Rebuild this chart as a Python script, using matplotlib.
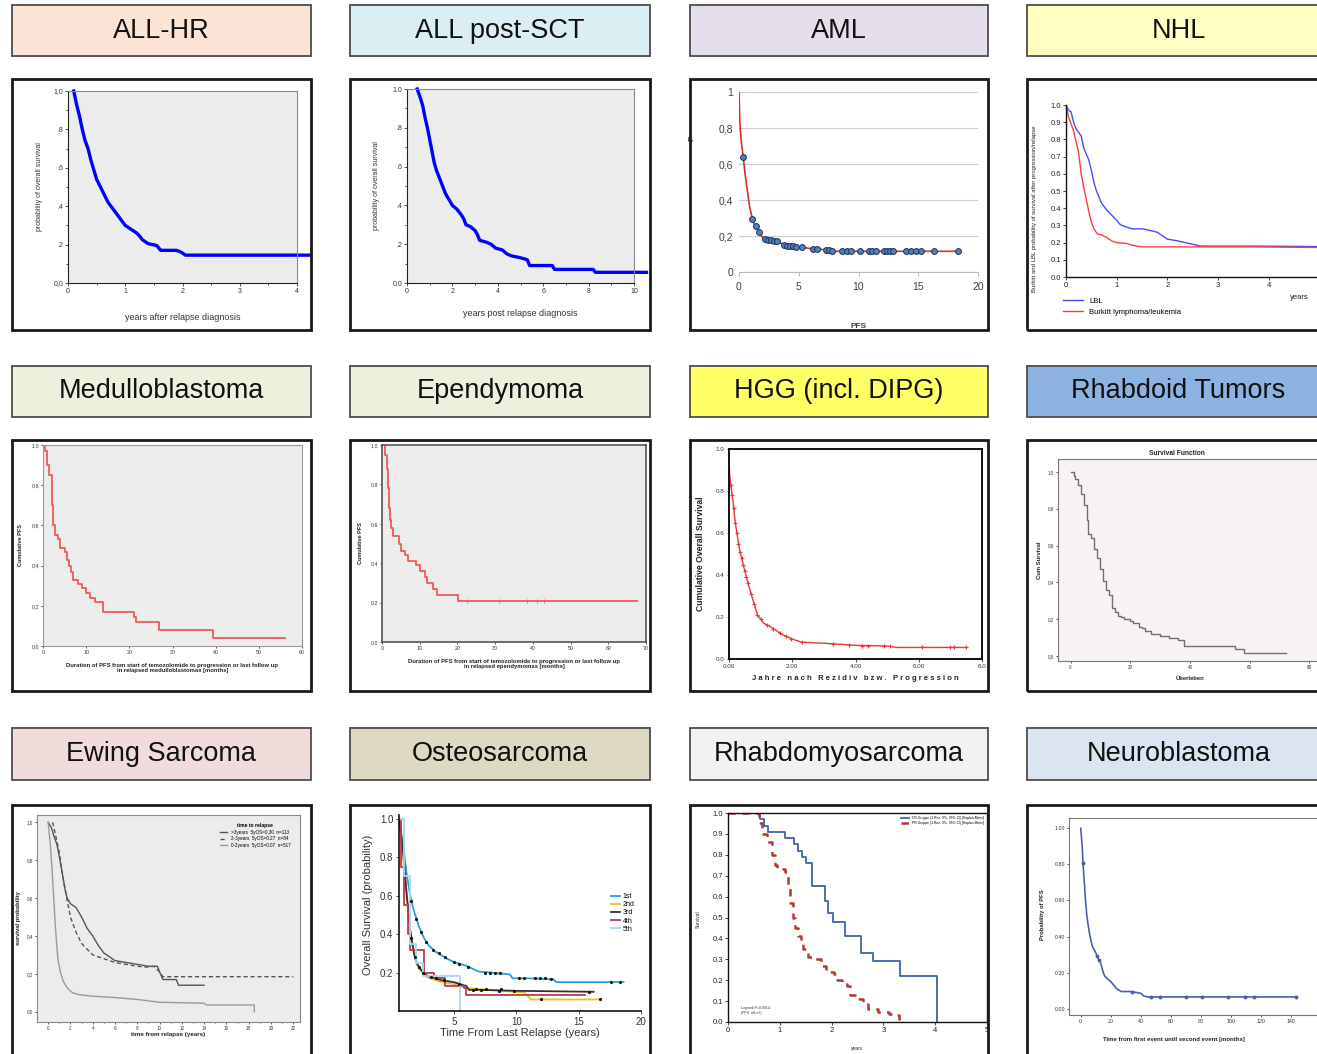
"""Twelve relapse survival curves, one small panel per diagnosis, laid out 4 x 3."""
import matplotlib
matplotlib.use("Agg")
import matplotlib.pyplot as plt
from matplotlib.patches import Rectangle

plt.rcParams['font.family'] = ['Liberation Sans', 'DejaVu Sans']

# ---- panel titles and colours -------------------------------------------
TITLES = ["ALL-HR", "ALL post-SCT", "AML", "NHL",
          "Medulloblastoma", "Ependymoma", "HGG (incl. DIPG)", "Rhabdoid Tumors",
          "Ewing Sarcoma", "Osteosarcoma", "Rhabdomyosarcoma", "Neuroblastoma"]
TITLE_COLORS = ["#fbe4d5", "#daeef3", "#e5dfec", "#ffffc4",
                "#ebf1dd", "#ebf1dd", "#ffff66", "#8db3e2",
                "#f2dcdb", "#ddd9c3", "#f2f2f2", "#dbe5f1"]

# ---- ALL-HR ----
ALLHR_T = [0.1, 0.15, 0.2, 0.25, 0.3, 0.35, 0.4, 0.45, 0.5, 0.55, 0.6, 0.65, 0.7, 0.75, 0.8,
           0.85, 0.9, 0.95, 1.0, 1.1, 1.2, 1.25, 1.3, 1.4, 1.55, 1.62, 1.9, 1.98, 2.05, 4.23]
ALLHR_S = [1.0, 0.93, 0.87, 0.80, 0.74, 0.70, 0.64, 0.59, 0.54, 0.51, 0.48, 0.45, 0.42, 0.40, 0.38,
           0.36, 0.34, 0.32, 0.30, 0.28, 0.26, 0.245, 0.225, 0.205, 0.195, 0.17, 0.17, 0.16, 0.145, 0.145]
ALLHR_YLABELS = ["0,0", ".2", ".4", ".6", ".8", "1,0"]

# ---- ALL post-SCT ----
SCT_T = [0.45, 0.6, 0.7, 0.8, 0.9, 1.0, 1.1, 1.2, 1.3, 1.4, 1.5, 1.6, 1.7, 1.8, 1.9, 2.0, 2.2, 2.4, 2.5,
         2.6, 2.8, 3.0, 3.1, 3.2, 3.5, 3.7, 3.9, 4.2, 4.4, 4.6, 5.0, 5.3, 5.4, 6.4, 6.5, 8.2, 8.3, 10.55]
SCT_S = [1.0, 0.95, 0.91, 0.85, 0.80, 0.74, 0.68, 0.62, 0.58, 0.55, 0.52, 0.49, 0.46, 0.44, 0.42, 0.40,
         0.38, 0.35, 0.33, 0.30, 0.29, 0.27, 0.25, 0.22, 0.21, 0.20, 0.18, 0.17, 0.15, 0.14, 0.13, 0.12,
         0.09, 0.09, 0.07, 0.07, 0.055, 0.055]
SCT_YLABELS = ["0.0", ".2", ".4", ".6", ".8", "1.0"]

# ---- AML ----
AML_T = [0, 0.05, 0.1, 0.2, 0.35, 0.5, 0.7, 0.9, 1.1, 1.3, 1.5, 1.7, 2.0, 2.5, 3.0, 3.5, 4.0,
         5.0, 6.0, 7.0, 8.0, 18.3]
AML_S = [1.0, 0.88, 0.80, 0.72, 0.64, 0.55, 0.45, 0.36, 0.30, 0.26, 0.24, 0.22, 0.19, 0.178, 0.172,
         0.16, 0.15, 0.14, 0.13, 0.125, 0.115, 0.115]
AML_MARK_T = [0.35, 1.1, 1.45, 1.65, 2.2, 2.45, 2.7, 2.95, 3.15, 3.8, 4.05, 4.3, 4.55, 4.75, 5.3,
              6.2, 6.5, 7.3, 7.55, 7.75, 8.6, 9.0, 9.4, 10.15, 10.85, 11.15, 11.5, 12.1, 12.4, 12.6,
              12.9, 14.0, 14.4, 14.8, 15.2, 16.3, 18.3]
AML_MARK_S = [0.64, 0.295, 0.255, 0.225, 0.185, 0.18, 0.178, 0.175, 0.175, 0.15, 0.147, 0.145, 0.142,
              0.14, 0.14, 0.13, 0.13, 0.125, 0.12, 0.118, 0.115, 0.115, 0.115, 0.115, 0.115, 0.115,
              0.115, 0.115, 0.115, 0.115, 0.115, 0.115, 0.115, 0.115, 0.115, 0.115, 0.115]
AML_YLABELS = ["0", "0,2", "0,4", "0,6", "0,8", "1"]

# ---- NHL ----
LBL_T = [0, 0.05, 0.1, 0.15, 0.2, 0.3, 0.35, 0.45, 0.5, 0.55, 0.6, 0.7, 0.8, 0.9, 1.0, 1.05, 1.1,
         1.2, 1.3, 1.5, 1.6, 1.8, 1.9, 2.0, 2.2, 2.5, 2.65, 3.7, 5.6]
LBL_S = [1.0, 0.97, 0.96, 0.90, 0.86, 0.82, 0.75, 0.68, 0.62, 0.55, 0.50, 0.43, 0.39, 0.36, 0.33,
         0.31, 0.30, 0.29, 0.28, 0.28, 0.275, 0.26, 0.24, 0.22, 0.21, 0.19, 0.18, 0.18, 0.175]
BL_T = [0, 0.05, 0.15, 0.25, 0.3, 0.35, 0.4, 0.45, 0.5, 0.55, 0.62, 0.7, 0.8, 0.9, 1.0, 1.2, 1.3,
        1.5, 3.7, 5.6]
BL_S = [1.0, 0.93, 0.85, 0.72, 0.60, 0.52, 0.45, 0.38, 0.32, 0.28, 0.25, 0.245, 0.23, 0.21, 0.20,
        0.195, 0.185, 0.175, 0.175, 0.17]
NHL_XLABELS = ["0", "1", "2", "3", "4", ""]

# ---- Medulloblastoma ----
MB_T = [0, 0.5, 1.0, 1.5, 2.0, 2.3, 2.7, 3.5, 4.0, 5.0, 5.5, 6.0, 6.5, 7.0, 8.0, 9.0, 10.0, 11.0,
        12.0, 13.8, 21.0, 21.5, 26.8, 39.3, 56.0]
MB_S = [1.0, 0.97, 0.90, 0.85, 0.70, 0.60, 0.55, 0.53, 0.49, 0.47, 0.43, 0.40, 0.37, 0.33, 0.31,
        0.29, 0.265, 0.24, 0.22, 0.17, 0.145, 0.12, 0.08, 0.04, 0.04]
PFS_YLABELS = ["0,0", "0,2", "0,4", "0,6", "0,8", "1,0"]

# ---- Ependymoma ----
EP_T = [0, 0.8, 1.2, 1.5, 1.8, 2.0, 2.5, 3.0, 4.5, 5.0, 6.0, 7.0, 9.0, 10.0, 11.5, 12.0, 13.5,
        14.5, 20.2, 67.5]
EP_S = [1.0, 0.95, 0.88, 0.78, 0.68, 0.62, 0.58, 0.54, 0.50, 0.46, 0.44, 0.41, 0.39, 0.36, 0.33,
        0.30, 0.27, 0.24, 0.21, 0.21]
EP_CENS_T = [22.5, 31.0, 38.5, 41.0, 43.0]
EP_CENS_S = [0.21, 0.21, 0.21, 0.21, 0.21]

# ---- HGG ----
HGG_T = [0, 0.02, 0.05, 0.08, 0.12, 0.16, 0.2, 0.25, 0.3, 0.35, 0.4, 0.45, 0.5, 0.55, 0.6, 0.7,
         0.8, 0.9, 1.0, 1.1, 1.3, 1.5, 1.7, 2.0, 2.3, 3.0, 4.0, 5.0, 5.3, 7.5]
HGG_S = [0.95, 0.88, 0.83, 0.80, 0.76, 0.70, 0.65, 0.60, 0.55, 0.51, 0.48, 0.45, 0.42, 0.39, 0.36,
         0.31, 0.26, 0.21, 0.19, 0.17, 0.155, 0.135, 0.115, 0.095, 0.08, 0.075, 0.065, 0.062,
         0.055, 0.055]
HGG_CENS_T = [0.05, 0.1, 0.15, 0.2, 0.25, 0.3, 0.35, 0.4, 0.45, 0.5, 0.55, 0.6, 0.7, 0.8, 0.9,
              1.0, 1.2, 1.4, 1.6, 1.8, 1.95, 2.3, 3.3, 3.8, 4.2, 4.4, 4.9, 5.1, 6.1, 7.0, 7.1, 7.5]
HGG_CENS_S = [0.83, 0.78, 0.72, 0.65, 0.60, 0.55, 0.51, 0.48, 0.45, 0.42, 0.39, 0.36, 0.31, 0.26,
              0.21, 0.19, 0.163, 0.145, 0.125, 0.108, 0.097, 0.08, 0.072, 0.065, 0.064, 0.063,
              0.062, 0.061, 0.055, 0.055, 0.055, 0.055]
HGG_XLABELS = ["0.00", "2.00", "4.00", "6.00", "8.0"]

# ---- Rhabdoid ----
RT_T = [0, 1, 1.5, 2.5, 3.5, 4.5, 5.5, 6, 7, 8, 9, 10, 11, 12, 13, 14, 15, 16, 17, 18, 20, 21, 23,
        24, 25, 27, 30, 33, 36, 38, 55, 58, 72]
RT_S = [1.0, 0.98, 0.96, 0.93, 0.88, 0.82, 0.74, 0.66, 0.64, 0.58, 0.53, 0.47, 0.41, 0.36, 0.33,
        0.26, 0.24, 0.22, 0.21, 0.20, 0.19, 0.18, 0.155, 0.15, 0.135, 0.12, 0.11, 0.10, 0.085,
        0.055, 0.04, 0.015, 0.015]

# ---- Ewing ----
EW_LATE_T = [0, 0.3, 0.5, 0.8, 1.0, 1.3, 1.5, 1.7, 2.0, 2.5, 3.0, 3.5, 4.0, 4.5, 5.0, 5.5, 6.0,
             7.0, 8.0, 9.0, 9.8, 10.0, 10.3, 11.5, 11.7, 14.0]
EW_LATE_S = [1.0, 0.97, 0.93, 0.88, 0.82, 0.72, 0.65, 0.60, 0.57, 0.55, 0.50, 0.44, 0.40, 0.35,
             0.31, 0.29, 0.27, 0.26, 0.25, 0.24, 0.24, 0.21, 0.17, 0.17, 0.14, 0.14]
EW_MID_T = [0.4, 0.6, 1.0, 1.3, 1.6, 1.8, 2.0, 2.5, 3.0, 3.5, 4.0, 5.0, 6.0, 7.0, 8.0, 9.0, 9.5,
            10.0, 10.3, 22.0]
EW_MID_S = [1.0, 0.95, 0.84, 0.72, 0.62, 0.56, 0.50, 0.42, 0.36, 0.33, 0.30, 0.28, 0.26, 0.25,
            0.24, 0.235, 0.24, 0.21, 0.185, 0.185]
EW_EARLY_T = [0, 0.2, 0.35, 0.5, 0.65, 0.8, 0.9, 1.1, 1.3, 1.5, 1.8, 2.2, 2.8, 4.0, 6.0, 8.0, 10.0,
              14.0, 14.2, 18.5, 18.5]
EW_EARLY_S = [1.0, 0.88, 0.75, 0.60, 0.45, 0.33, 0.27, 0.21, 0.17, 0.145, 0.12, 0.10, 0.09, 0.082,
              0.075, 0.065, 0.05, 0.045, 0.036, 0.036, 0.0]
EW_LABELS = [">3years  5yOS=0.30  n=113", "2-3years  5yOS=0.27  n=84", "0-2years  5yOS=0.07  n=517"]
EW_YLABELS = ["0,0", "0,2", "0,4", "0,6", "0,8", "1,0"]

# ---- Osteosarcoma ----
OS_LABELS = ["1st", "2nd", "3rd", "4th", "5th"]
OS_COLORS = ["#2e9bd6", "#e6c619", "#333333", "#c0364f", "#a7d8f0"]
OS_1_T = [0.6, 0.9, 1.2, 1.5, 1.8, 2.2, 2.6, 3.0, 3.5, 4.0, 4.5, 5.0, 5.5, 6.0, 6.5, 7.0, 8.0, 9.5,
          9.7, 11.0, 13.0, 13.2, 18.6]
OS_1_S = [1.0, 0.88, 0.72, 0.60, 0.52, 0.44, 0.38, 0.34, 0.31, 0.29, 0.27, 0.255, 0.245, 0.235,
          0.22, 0.205, 0.2, 0.19, 0.17, 0.17, 0.165, 0.15, 0.15]
OS_2_T = [0.6, 0.9, 1.2, 1.5, 1.8, 2.2, 2.7, 4.0, 5.0, 6.0, 7.0, 10.7, 11.2, 16.8]
OS_2_S = [1.0, 0.82, 0.60, 0.42, 0.30, 0.22, 0.18, 0.15, 0.14, 0.12, 0.115, 0.095, 0.06, 0.06]
OS_3_T = [0.6, 0.9, 1.2, 1.5, 1.8, 2.0, 2.3, 2.7, 3.0, 4.0, 5.0, 6.0, 6.2, 7.0, 10.0, 16.2]
OS_3_S = [1.0, 0.85, 0.62, 0.42, 0.30, 0.25, 0.22, 0.19, 0.18, 0.16, 0.15, 0.13, 0.11, 0.11, 0.105,
          0.10]
OS_4_T = [0.6, 0.8, 1.0, 1.3, 1.5, 2.5, 2.6, 3.4, 4.3, 5.8, 6.0, 15.5]
OS_4_S = [1.0, 0.75, 0.55, 0.40, 0.32, 0.32, 0.20, 0.17, 0.13, 0.12, 0.085, 0.085]
OS_5_T = [0.6, 1.0, 1.5, 2.0, 2.5, 5.5, 5.5]
OS_5_S = [1.0, 0.70, 0.35, 0.25, 0.18, 0.18, 0.0]
OS_1_CENS_T = [1.6, 2.0, 2.4, 2.8, 3.3, 3.8, 4.3, 5.0, 5.4, 6.1, 7.5, 7.9, 8.3, 8.7, 10.2, 10.6,
               11.5, 11.9, 12.3, 12.8, 17.6, 18.3]
OS_1_CENS_S = [0.57, 0.48, 0.41, 0.36, 0.32, 0.30, 0.28, 0.255, 0.245, 0.23, 0.2, 0.2, 0.2, 0.2,
               0.17, 0.17, 0.17, 0.17, 0.17, 0.165, 0.15, 0.15]
OS_3_CENS_T = [1.6, 1.9, 2.2, 2.5, 3.2, 3.6, 4.2, 6.5, 7.2, 8.6, 9.8, 15.8]
OS_3_CENS_S = [0.38, 0.28, 0.23, 0.20, 0.175, 0.17, 0.16, 0.11, 0.11, 0.105, 0.105, 0.10]
OS_2_CENS_T = [5.4, 6.8, 7.6, 8.8, 12.0, 16.7]
OS_2_CENS_S = [0.14, 0.115, 0.115, 0.115, 0.06, 0.06]

# ---- Rhabdomyosarcoma ----
RMS_A_T = [0, 0.62, 0.7, 0.77, 1.1, 1.27, 1.35, 1.42, 1.5, 1.62, 1.88, 1.94, 2.03, 2.25, 2.57,
           2.8, 3.32, 4.04]
RMS_A_S = [1.0, 0.97, 0.94, 0.91, 0.88, 0.85, 0.82, 0.79, 0.76, 0.65, 0.58, 0.52, 0.48, 0.41,
           0.33, 0.29, 0.22, 0.0]
RMS_B_T = [0, 0.6, 0.65, 0.75, 0.85, 0.9, 0.95, 1.1, 1.15, 1.2, 1.25, 1.3, 1.35, 1.4, 1.45, 1.55,
           1.65, 1.8, 1.9, 2.05, 2.1, 2.2, 2.3, 2.35, 2.5, 2.6, 2.7, 2.9, 3.1, 3.2, 3.3]
RMS_B_S = [1.0, 0.95, 0.90, 0.86, 0.80, 0.75, 0.73, 0.72, 0.65, 0.57, 0.50, 0.45, 0.41, 0.38, 0.35,
           0.31, 0.30, 0.27, 0.24, 0.23, 0.20, 0.18, 0.17, 0.13, 0.11, 0.09, 0.06, 0.05, 0.04,
           0.035, 0.01]
RMS_LABELS = ["CR-Gruppe (1.Rez. 0%, 95% CI) [Kaplan-Meier]",
              "PR-Gruppe (1.Rez. 0%, 95% CI) [Kaplan-Meier]"]

# ---- Neuroblastoma ----
NB_T = [0, 1, 1.5, 2, 3, 4, 5, 6, 7, 8, 10, 11, 12, 13, 15, 16, 18, 20, 22, 24, 27, 33, 37, 40, 42,
        45, 143]
NB_S = [1.0, 0.90, 0.81, 0.75, 0.62, 0.52, 0.46, 0.41, 0.37, 0.34, 0.31, 0.29, 0.27, 0.26, 0.20,
        0.18, 0.165, 0.15, 0.13, 0.11, 0.095, 0.095, 0.09, 0.085, 0.07, 0.065, 0.065]
NB_CENS_T = [1.5, 11, 12, 34, 47, 53, 70, 81, 98, 109, 115, 143]
NB_CENS_S = [0.81, 0.29, 0.27, 0.095, 0.065, 0.065, 0.065, 0.065, 0.065, 0.065, 0.065, 0.065]
NB_YLABELS = ["0.00", "0.20", "0.40", "0.60", "0.80", "1.00"]

# ---- layout (pixels) ----
W, H = 1317, 1054
COL_X = [(12, 311), (350, 650), (690, 988), (1027, 1330)]
HEAD_Y = [(5, 56), (366, 417), (728, 780)]
BOX_Y = [(79, 330), (440, 691), (805, 1062)]

fig = plt.figure(figsize=(W / 100, H / 100), dpi=100)


def px_axes(x0, y0, x1, y1):
    return fig.add_axes([x0 / W, 1 - y1 / H, (x1 - x0) / W, (y1 - y0) / H])


def px_rect(x0, y0, x1, y1, **kw):
    r = Rectangle((x0 / W, 1 - y1 / H), (x1 - x0) / W, (y1 - y0) / H,
                  transform=fig.transFigure, **kw)
    fig.patches.append(r)


def ticks(ax, size, color="#333333", length=2.0):
    ax.tick_params(labelsize=size, colors=color, length=length, width=0.6, pad=1.5)
    ax.tick_params(which="minor", length=length * 0.7, width=0.5)


def frame(ax, color, lw=0.8):
    for s in ax.spines.values():
        s.set_color(color)
        s.set_linewidth(lw)


# headers and frames
for i, (title, col) in enumerate(zip(TITLES, TITLE_COLORS)):
    r, c = divmod(i, 4)
    x0, x1 = COL_X[c]
    hy0, hy1 = HEAD_Y[r]
    px_rect(x0, hy0, x1, hy1, facecolor=col, edgecolor="#4d4d4d", lw=1.3, zorder=1)
    fig.text((x0 + x1) / 2 / W, 1 - (hy0 + hy1) / 2 / H, title, fontsize=19.5,
             ha="center", va="center", color="#111111")
    by0, by1 = BOX_Y[r]
    px_rect(x0, by0, x1, by1, fill=False, edgecolor="#1a1a1a", lw=2.0, zorder=20)

# 1 ALL-HR
ax = px_axes(68, 91, 297, 283)
ax.set_facecolor("#ececec")
ax.plot(ALLHR_T, ALLHR_S, color="#0000ff", lw=2.4, clip_on=False, solid_joinstyle="round")
ax.set_xlim(0, 4)
ax.set_ylim(0, 1)
ax.set_xticks([0, 1, 2, 3, 4])
ax.set_xticks([0.5, 1.5, 2.5, 3.5], minor=True)
ax.set_yticks([0, 0.2, 0.4, 0.6, 0.8, 1.0])
ax.set_yticklabels(ALLHR_YLABELS)
ax.set_yticks([0.1, 0.3, 0.5, 0.7, 0.9], minor=True)
ticks(ax, 5)
frame(ax, "#888888")
ax.spines["left"].set_color("#222222")
ax.spines["bottom"].set_color("#222222")
ax.set_ylabel("probability of overall survival", fontsize=5, color="#333")
ax.set_xlabel("years after relapse diagnosis", fontsize=6.5, color="#333")
ax.yaxis.set_label_coords(-0.109, 0.5)
ax.xaxis.set_label_coords(0.5, -0.156)

# 2 ALL post-SCT
ax = px_axes(407, 89, 634, 283)
ax.set_facecolor("#ececec")
ax.plot(SCT_T, SCT_S, color="#0000ff", lw=2.4, clip_on=False, solid_joinstyle="round")
ax.set_xlim(0, 10)
ax.set_ylim(0, 1)
ax.set_xticks([0, 2, 4, 6, 8, 10])
ax.set_xticks([1, 3, 5, 7, 9], minor=True)
ax.set_yticks([0, 0.2, 0.4, 0.6, 0.8, 1.0])
ax.set_yticklabels(SCT_YLABELS)
ax.set_yticks([0.1, 0.3, 0.5, 0.7, 0.9], minor=True)
ticks(ax, 5)
frame(ax, "#888888")
ax.spines["left"].set_color("#222222")
ax.spines["bottom"].set_color("#222222")
ax.set_ylabel("probability of overall survival", fontsize=5, color="#333")
ax.set_xlabel("years post relapse diagnosis", fontsize=6.5, color="#333")
ax.yaxis.set_label_coords(-0.119, 0.5)
ax.xaxis.set_label_coords(0.5, -0.134)

# 3 AML
ax = px_axes(739, 92, 978, 272)
ax.plot(AML_T, AML_S, color="#d9302c", lw=1.2, zorder=3)
ax.plot(AML_MARK_T, AML_MARK_S, "o", ms=4.2, mfc="#4f81bd", mec="#1f3350", mew=0.7, zorder=4)
ax.set_xlim(0, 20)
ax.set_ylim(0, 1)
ax.set_xticks([0, 5, 10, 15, 20])
ax.set_yticks([0, 0.2, 0.4, 0.6, 0.8, 1.0])
ax.set_yticklabels(AML_YLABELS)
ax.grid(axis="y", color="#cccccc", lw=0.8)
ax.set_axisbelow(True)
for s in ["top", "right", "left"]:
    ax.spines[s].set_visible(False)
ax.spines["bottom"].set_color("#bbbbbb")
ax.tick_params(labelsize=7.5, colors="#404040", length=0, pad=4)
ax.tick_params(axis="x", length=3, color="#bbbbbb", labelcolor="#404040")
ax.set_ylabel("P", fontsize=6, weight="bold", color="#404040")
ax.set_xlabel("PFS", fontsize=6, weight="bold", color="#404040")
ax.yaxis.set_label_coords(-0.184, 0.744)
ax.xaxis.set_label_coords(0.5, -0.283)

# 4 NHL
ax = px_axes(1066, 105, 1345, 277)
ax.plot(LBL_T, LBL_S, color="#4a4aff", lw=1.0, label="LBL")
ax.plot(BL_T, BL_S, color="#ff3b3b", lw=1.0, label="Burkitt lymphoma/leukemia")
ax.set_xlim(0, 5.5)
ax.set_ylim(0, 1.0)
ax.set_xticks([0, 1, 2, 3, 4, 5])
ax.set_xticklabels(NHL_XLABELS)
ax.set_yticks([i / 10 for i in range(11)])
ax.spines["top"].set_visible(False)
ax.spines["right"].set_visible(False)
frame(ax, "#111111", lw=1.0)
ticks(ax, 5.5, color="#222222")
ax.set_ylabel("Burkitt and LBL probability of survival after progression/relapse", fontsize=4.3,
              color="#222")
ax.yaxis.set_label_coords(-0.104, 0.40)
ax.text(4.42, -0.10, "years", fontsize=5.5, color="#222", va="top",
        transform=ax.get_xaxis_transform())
ax.legend(loc="upper left", bbox_to_anchor=(-0.02, -0.10), frameon=False, fontsize=5.5,
          handlelength=2.6, labelspacing=0.55, borderaxespad=0)

# 5 Medulloblastoma
ax = px_axes(43, 445, 302, 646)
ax.set_facecolor("#ececec")
ax.step(MB_T, MB_S, where="post", color="#ee5a5a", lw=1.3)
ax.set_xlim(0, 60)
ax.set_ylim(0, 1)
ax.set_xticks([0, 10, 20, 30, 40, 50, 60])
ax.set_yticks([0, 0.2, 0.4, 0.6, 0.8, 1.0])
ax.set_yticklabels(PFS_YLABELS)
ticks(ax, 3.8, length=1.5)
frame(ax, "#999999")
ax.set_ylabel("Cumulative PFS", fontsize=4, weight="bold", color="#222")
ax.set_xlabel("Duration of PFS from start of temozolomide to progression or last follow up\n"
              "in relapsed medulloblastomas [months]", fontsize=4.2, weight="bold", color="#222",
              linespacing=1.0)
ax.yaxis.set_label_coords(-0.077, 0.5)
ax.xaxis.set_label_coords(0.5, -0.085)

# 6 Ependymoma
ax = px_axes(382, 445, 646, 642)
ax.set_facecolor("#ececec")
ax.step(EP_T, EP_S, where="post", color="#ee5a5a", lw=1.3)
ax.plot(EP_CENS_T, EP_CENS_S, "|", color="#ee5a5a", ms=3, mew=0.6)
ax.set_xlim(0, 70)
ax.set_ylim(0, 1)
ax.set_xticks([0, 10, 20, 30, 40, 50, 60, 70])
ax.set_yticks([0, 0.2, 0.4, 0.6, 0.8, 1.0])
ax.set_yticklabels(PFS_YLABELS)
ticks(ax, 3.8, length=1.5)
frame(ax, "#555555", lw=1.2)
ax.set_ylabel("Cumulative PFS", fontsize=4, weight="bold", color="#222")
ax.set_xlabel("Duration of PFS from start of temozolomide to progression or last follow up\n"
              "in relapsed ependymomas [months]", fontsize=4.2, weight="bold", color="#222",
              linespacing=1.0)
ax.yaxis.set_label_coords(-0.072, 0.5)
ax.xaxis.set_label_coords(0.5, -0.086)

# 7 HGG
ax = px_axes(729, 449, 982, 659)
ax.plot(HGG_T, HGG_S, color="#e8383a", lw=1.0)
ax.plot(HGG_CENS_T, HGG_CENS_S, "+", color="#e8383a", ms=3.5, mew=0.8)
ax.set_xlim(0, 8)
ax.set_ylim(0, 1)
ax.set_xticks([0, 2, 4, 6, 8])
ax.set_xticklabels(HGG_XLABELS)
ax.set_yticks([0, 0.2, 0.4, 0.6, 0.8, 1.0])
ax.set_yticklabels(["0.0", "0.2", "0.4", "0.6", "0.8", "1.0"])
ticks(ax, 4.5, length=1.8)
frame(ax, "#111111", lw=1.4)
ax.set_ylabel("Cumulative Overall Survival", fontsize=6.2, weight="bold", color="#222")
ax.set_xlabel("J a h r e   n a c h   R e z i d i v   b z w .   P r o g r e s s i o n",
              fontsize=5.5, weight="bold", color="#222")
ax.yaxis.set_label_coords(-0.095, 0.5)
ax.xaxis.set_label_coords(0.5, -0.076)

# 8 Rhabdoid Tumors
ax = px_axes(1058, 459, 1330, 661)
ax.set_facecolor("#f8f1f6")
ax.step(RT_T, RT_S, where="post", color="#707070", lw=1.0)
ax.set_xlim(-4.2, 86.9)
ax.set_ylim(-0.027, 1.07)
ax.set_xticks([0, 20, 40, 60, 80])
ax.set_yticks([0, 0.2, 0.4, 0.6, 0.8, 1.0])
ax.set_yticklabels(PFS_YLABELS)
ticks(ax, 3.3, length=1.5)
frame(ax, "#777777", lw=0.8)
ax.text(0.437, 1.01, "Survival Function", transform=ax.transAxes, fontsize=4.8, weight="bold",
        ha="center", va="bottom", color="#222")
ax.set_ylabel("Cum Survival", fontsize=4.2, weight="bold", color="#222")
ax.set_xlabel("Überleben", fontsize=4.2, weight="bold", color="#222")
ax.yaxis.set_label_coords(-0.059, 0.5)
ax.xaxis.set_label_coords(0.485, -0.074)

# 9 Ewing Sarcoma
ax = px_axes(37, 815, 300, 1022)
ax.set_facecolor("#ececec")
ax.plot(EW_LATE_T, EW_LATE_S, color="#555555", lw=1.0, label=EW_LABELS[0])
ax.plot(EW_MID_T, EW_MID_S, color="#555555", lw=1.0, ls=(0, (3, 2)), label=EW_LABELS[1])
ax.plot(EW_EARLY_T, EW_EARLY_S, color="#9a9a9a", lw=1.0, label=EW_LABELS[2])
ax.set_xlim(-1.0, 22.6)
ax.set_ylim(-0.054, 1.038)
ax.set_xticks(list(range(0, 23, 2)))
ax.set_xticks(list(range(1, 23, 2)), minor=True)
ax.set_yticks([0, 0.2, 0.4, 0.6, 0.8, 1.0])
ax.set_yticklabels(EW_YLABELS)
ticks(ax, 3.3, length=1.5)
frame(ax, "#888888")
ax.legend(loc="upper right", bbox_to_anchor=(0.98, 0.98), frameon=False, fontsize=3.3,
          title="time to relapse", title_fontproperties={"size": 3.6, "weight": "bold"},
          handlelength=1.6, labelspacing=0.35)
ax.set_ylabel("survival probability", fontsize=4.2, weight="bold", color="#222")
ax.set_xlabel("time from relapse (years)", fontsize=4.5, weight="bold", color="#222")
ax.yaxis.set_label_coords(-0.06, 0.5)
ax.xaxis.set_label_coords(0.5, -0.048)

# 10 Osteosarcoma
ax = px_axes(399, 815, 641, 1011)
os_t = [OS_1_T, OS_2_T, OS_3_T, OS_4_T, OS_5_T]
os_s = [OS_1_S, OS_2_S, OS_3_S, OS_4_S, OS_5_S]
for k, (t, s, lab, col) in enumerate(zip(os_t, os_s, OS_LABELS, OS_COLORS)):
    if k < 3:
        ax.plot(t, s, color=col, lw=1.3, label=lab)
    else:
        ax.step(t, s, where="post", color=col, lw=1.3, label=lab)
for t, s in [(OS_1_CENS_T, OS_1_CENS_S), (OS_3_CENS_T, OS_3_CENS_S), (OS_2_CENS_T, OS_2_CENS_S)]:
    ax.plot(t, s, ".", color="#111111", ms=2.5)
ax.set_xlim(0.6, 20)
ax.set_ylim(0, 1.02)
ax.set_xticks([5, 10, 15, 20])
ax.set_yticks([0.2, 0.4, 0.6, 0.8, 1.0])
ax.spines["top"].set_visible(False)
ax.spines["right"].set_visible(False)
frame(ax, "#111111", lw=1.2)
ticks(ax, 7, color="#333333", length=2.5)
ax.legend(loc="center right", bbox_to_anchor=(1.0, 0.5), frameon=False, fontsize=5,
          handlelength=1.3, labelspacing=0.15, handletextpad=0.4)
ax.set_ylabel("Overall Survival (probability)", fontsize=8, color="#333")
ax.set_xlabel("Time From Last Relapse (years)", fontsize=8, color="#333")
ax.yaxis.set_label_coords(-0.107, 0.54)
ax.xaxis.set_label_coords(0.5, -0.087)

# 11 Rhabdomyosarcoma
ax = px_axes(728, 813, 987, 1022)
ax.step(RMS_A_T, RMS_A_S, where="post", color="#3c66a0", lw=1.3, label=RMS_LABELS[0])
ax.step(RMS_B_T, RMS_B_S, where="post", color="#b03a30", lw=1.8, ls=(0, (3, 2.5)),
        label=RMS_LABELS[1])
ax.set_xlim(0, 5)
ax.set_ylim(0, 1)
ax.set_xticks([0, 1, 2, 3, 4, 5])
ax.set_yticks([i / 10 for i in range(11)])
ticks(ax, 5.5, color="#222222", length=2)
frame(ax, "#111111", lw=1.0)
ax.legend(loc="upper right", frameon=False, fontsize=2.4, handlelength=2.5, labelspacing=0.3)
ax.text(0.05, 0.04, "Logrank P=0.0014\n(PFS, all rel.)", transform=ax.transAxes, fontsize=2.5,
        color="#333")
ax.set_ylabel("Survival", fontsize=3.5, color="#222")
ax.set_xlabel("years", fontsize=3.5, color="#222")
ax.yaxis.set_label_coords(-0.104, 0.49)
ax.xaxis.set_label_coords(0.5, -0.115)

# 12 Neuroblastoma
ax = px_axes(1069, 818, 1325, 1015)
ax.plot(NB_T, NB_S, color="#4a5fb0", lw=1.2)
ax.plot(NB_CENS_T, NB_CENS_S, "o", color="#4a5fb0", ms=1.8)
ax.set_xlim(-7.8, 162.5)
ax.set_ylim(-0.035, 1.057)
ax.set_xticks(list(range(0, 141, 20)))
ax.set_yticks([0, 0.2, 0.4, 0.6, 0.8, 1.0])
ax.set_yticklabels(NB_YLABELS)
ticks(ax, 3.8, length=1.5)
frame(ax, "#777777", lw=0.8)
ax.set_ylabel("Probability of PFS", fontsize=4.2, weight="bold", color="#222")
ax.set_xlabel("Time from first event until second event [months]", fontsize=4.3, weight="bold",
              color="#222")
ax.yaxis.set_label_coords(-0.094, 0.51)
ax.xaxis.set_label_coords(0.41, -0.112)

fig.savefig("out.png", dpi=100, facecolor="white")
